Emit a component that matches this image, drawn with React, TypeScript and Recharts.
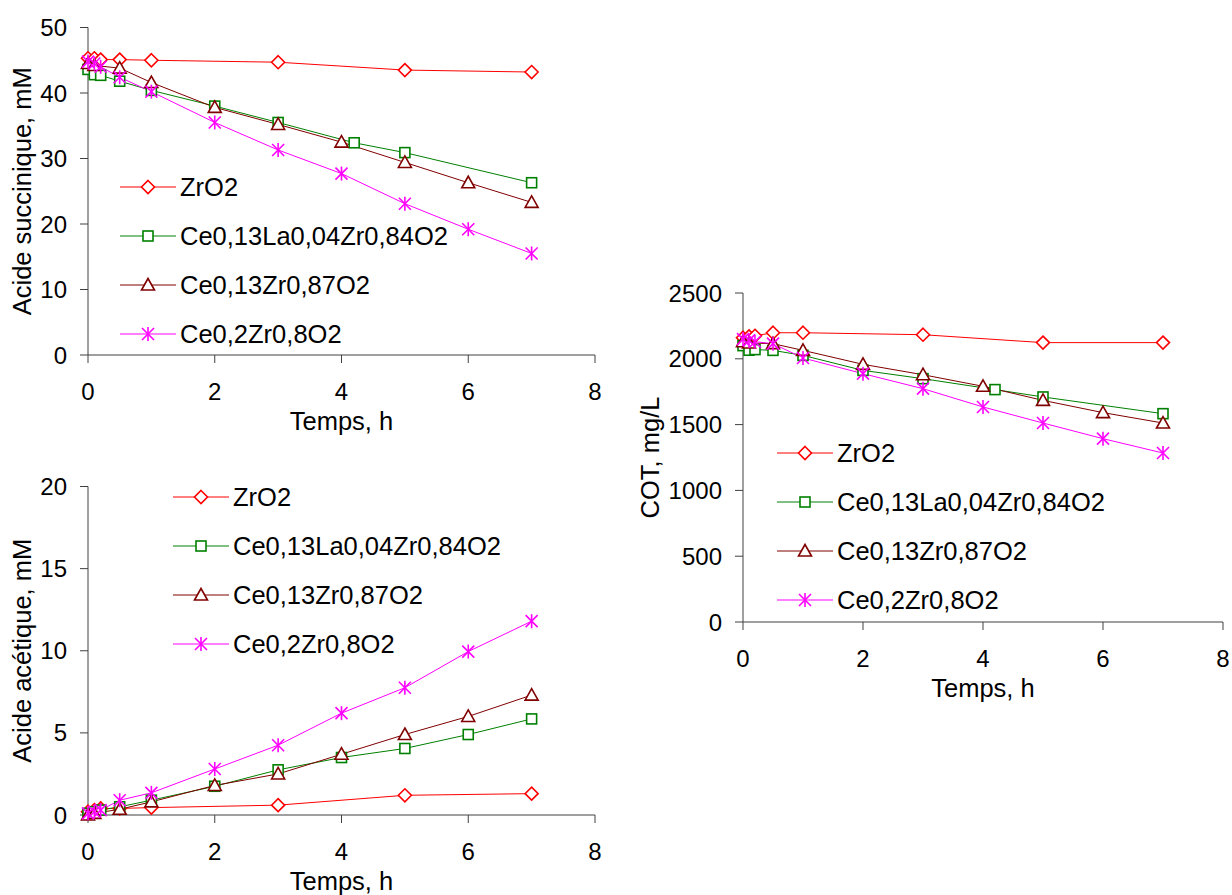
import { LineChart, Line, XAxis, YAxis, Legend } from 'recharts';

const FONT = '"Liberation Sans", Arial, sans-serif';

// series names
const ZR = 'ZrO2';
const CLZ = 'Ce0,13La0,04Zr0,84O2';
const CZ13 = 'Ce0,13Zr0,87O2';
const CZ2 = 'Ce0,2Zr0,8O2';
const seriesOrder = [ZR, CLZ, CZ13, CZ2];

const timeTicks = [0, 2, 4, 6, 8];

// Acide succinique, mM
const succTimeZr = [0, 0.1, 0.2, 0.5, 1, 3, 5, 7];
const succZr = [45.3, 45.3, 45.1, 45.1, 45.0, 44.7, 43.5, 43.2];
const succTimeClz = [0, 0.1, 0.2, 0.5, 1, 2, 3, 4.2, 5, 7];
const succClz = [43.6, 42.8, 42.7, 41.8, 40.4, 38.0, 35.5, 32.4, 30.9, 26.3];
const succTimeCz13 = [0, 0.1, 0.5, 1, 2, 3, 4, 5, 6, 7];
const succCz13 = [44.5, 44.2, 43.8, 41.6, 37.8, 35.2, 32.5, 29.4, 26.3, 23.3];
const succTimeCz2 = [0, 0.1, 0.2, 0.5, 1, 2, 3, 4, 5, 6, 7];
const succCz2 = [44.8, 44.5, 44.0, 42.4, 40.2, 35.5, 31.3, 27.7, 23.1, 19.2, 15.5];
const succTicks = [0, 10, 20, 30, 40, 50];

// Acide acétique, mM
const acetTimeZr = [0, 0.1, 0.2, 0.5, 1, 3, 5, 7];
const acetZr = [0.2, 0.3, 0.4, 0.4, 0.45, 0.6, 1.2, 1.3];
const acetTimeClz = [0, 0.1, 0.2, 0.5, 1, 2, 3, 4, 5, 6, 7];
const acetClz = [0.1, 0.2, 0.3, 0.5, 0.9, 1.75, 2.75, 3.5, 4.05, 4.9, 5.85];
const acetTimeCz13 = [0, 0.1, 0.5, 1, 2, 3, 4, 5, 6, 7];
const acetCz13 = [0, 0.1, 0.35, 0.8, 1.8, 2.5, 3.7, 4.9, 6.0, 7.3];
const acetTimeCz2 = [0, 0.1, 0.2, 0.5, 1, 2, 3, 4, 5, 6, 7];
const acetCz2 = [0.1, 0.2, 0.3, 0.9, 1.35, 2.8, 4.25, 6.2, 7.75, 9.95, 11.8];
const acetTicks = [0, 5, 10, 15, 20];

// COT, mg/L
const cotTimeZr = [0, 0.1, 0.2, 0.5, 1, 3, 5, 7];
const cotZr = [2160, 2170, 2175, 2198, 2198, 2183, 2123, 2123];
const cotTimeClz = [0, 0.1, 0.2, 0.5, 1, 2, 3, 4.2, 5, 7];
const cotClz = [2100, 2065, 2070, 2064, 2026, 1912, 1849, 1766, 1710, 1583];
const cotTimeCz13 = [0, 0.1, 0.5, 1, 2, 3, 4, 5, 6, 7];
const cotCz13 = [2130, 2120, 2115, 2064, 1958, 1879, 1791, 1684, 1591, 1512];
const cotTimeCz2 = [0, 0.1, 0.2, 0.5, 1, 2, 3, 4, 5, 6, 7];
const cotCz2 = [2150, 2140, 2130, 2115, 2006, 1887, 1773, 1634, 1512, 1393, 1284];
const cotTicks = [0, 500, 1000, 1500, 2000, 2500];

const zip = (t: number[], v: number[]) => t.map((x, i) => ({ t: x, v: v[i] }));

type Shape = 'diamond' | 'square' | 'triangle' | 'star';

const seriesStyle: Record<string, { color: string; shape: Shape }> = {
  [ZR]: { color: '#FF0000', shape: 'diamond' },
  [CLZ]: { color: '#008000', shape: 'square' },
  [CZ13]: { color: '#800000', shape: 'triangle' },
  [CZ2]: { color: '#FF00FF', shape: 'star' },
};

function Marker({ shape, x, y, color }: { shape: Shape; x: number; y: number; color: string }) {
  const sw = 1.6;
  if (shape === 'diamond') {
    return <path d={`M${x},${y - 6.5}L${x + 6.5},${y}L${x},${y + 6.5}L${x - 6.5},${y}Z`} fill="#fff" stroke={color} strokeWidth={sw} />;
  }
  if (shape === 'square') {
    return <rect x={x - 5} y={y - 5} width={10} height={10} fill="#fff" stroke={color} strokeWidth={sw} />;
  }
  if (shape === 'triangle') {
    return <path d={`M${x},${y - 6.5}L${x + 6.5},${y + 5}L${x - 6.5},${y + 5}Z`} fill="#fff" stroke={color} strokeWidth={sw} />;
  }
  return (
    <g stroke={color} strokeWidth={sw}>
      <line x1={x} y1={y - 7} x2={x} y2={y + 7} />
      <line x1={x - 6} y1={y - 6} x2={x + 6} y2={y + 6} />
      <line x1={x - 6} y1={y + 6} x2={x + 6} y2={y - 6} />
    </g>
  );
}

const makeDot = (name: string) => (props: any) => {
  const s = seriesStyle[name];
  return <Marker key={`${name}-${props.index}`} shape={s.shape} x={props.cx} y={props.cy} color={s.color} />;
};

const renderLegend = (props: any) => {
  const items = [...(props.payload || [])].sort(
    (a: any, b: any) => seriesOrder.indexOf(a.value) - seriesOrder.indexOf(b.value)
  );
  return (
    <div style={{ fontFamily: FONT, fontSize: 25.5, color: '#000' }}>
      {items.map((p: any) => {
        const s = seriesStyle[p.value];
        return (
          <div key={p.value} style={{ display: 'flex', alignItems: 'center', height: 49, whiteSpace: 'nowrap' }}>
            <svg width={56} height={20} style={{ overflow: 'visible' }}>
              <line x1={0} y1={10} x2={56} y2={10} stroke={s.color} strokeWidth={1} />
              <Marker shape={s.shape} x={28} y={10} color={s.color} />
            </svg>
            <span style={{ marginLeft: 4 }}>{p.value}</span>
          </div>
        );
      })}
    </div>
  );
};

const axisColor = '#404040';
const tickStyle = { fill: '#000', fontSize: 24, fontFamily: FONT };

interface PanelProps {
  width: number;
  height: number;
  margin: { top: number; right: number; bottom: number; left: number };
  yWidth: number;
  yTicks: number[];
  yLabel: string;
  yLabelOffset: number;
  legendPos: { left: number; top: number };
  series: { name: string; data: { t: number; v: number }[] }[];
}

function Panel({ width, height, margin, yWidth, yTicks, yLabel, yLabelOffset, legendPos, series }: PanelProps) {
  return (
    <LineChart width={width} height={height} margin={margin} style={{ fontFamily: FONT }}>
      <XAxis
        type="number"
        dataKey="t"
        domain={[0, 8]}
        ticks={timeTicks}
        height={40}
        tickSize={8}
        tickMargin={20}
        stroke={axisColor}
        tick={tickStyle}
        allowDuplicatedCategory={false}
        label={{ value: 'Temps, h', position: 'bottom', offset: 17, fill: '#000', fontSize: 25.5, fontFamily: FONT }}
      />
      <YAxis
        type="number"
        dataKey="v"
        domain={[yTicks[0], yTicks[yTicks.length - 1]]}
        ticks={yTicks}
        width={yWidth}
        tickSize={8}
        tickMargin={13}
        stroke={axisColor}
        tick={tickStyle}
        label={{
          value: yLabel,
          angle: -90,
          position: 'insideLeft',
          offset: yLabelOffset,
          fill: '#000',
          fontSize: 25.5,
          fontFamily: FONT,
          style: { textAnchor: 'middle' },
        }}
      />
      <Legend
        layout="vertical"
        align="center"
        verticalAlign="middle"
        content={renderLegend}
        wrapperStyle={{ left: legendPos.left, top: legendPos.top, width: 'auto', height: 'auto' }}
      />
      {series.map((s) => (
        <Line
          key={s.name}
          name={s.name}
          data={s.data}
          dataKey="v"
          type="linear"
          stroke={seriesStyle[s.name].color}
          strokeWidth={1}
          dot={makeDot(s.name)}
          activeDot={false}
          isAnimationActive={false}
        />
      ))}
    </LineChart>
  );
}

export default function App() {
  return (
    <div style={{ position: 'absolute', left: 0, top: 0, width: 1232, height: 895, background: '#fff', fontFamily: FONT }}>
      <div style={{ position: 'absolute', left: 0, top: 0 }}>
        <Panel
          width={620}
          height={440}
          margin={{ top: 27.5, right: 25, bottom: 45, left: 0 }}
          yWidth={88}
          yTicks={succTicks}
          yLabel="Acide succinique, mM"
          yLabelOffset={22}
          legendPos={{ left: 120, top: 162.5 }}
          series={[
            { name: ZR, data: zip(succTimeZr, succZr) },
            { name: CLZ, data: zip(succTimeClz, succClz) },
            { name: CZ13, data: zip(succTimeCz13, succCz13) },
            { name: CZ2, data: zip(succTimeCz2, succCz2) },
          ]}
        />
      </div>
      <div style={{ position: 'absolute', left: 0, top: 440 }}>
        <Panel
          width={620}
          height={455}
          margin={{ top: 46.5, right: 25, bottom: 40, left: 0 }}
          yWidth={88}
          yTicks={acetTicks}
          yLabel="Acide acétique, mM"
          yLabelOffset={22}
          legendPos={{ left: 173, top: 32.5 }}
          series={[
            { name: ZR, data: zip(acetTimeZr, acetZr) },
            { name: CLZ, data: zip(acetTimeClz, acetClz) },
            { name: CZ13, data: zip(acetTimeCz13, acetCz13) },
            { name: CZ2, data: zip(acetTimeCz2, acetCz2) },
          ]}
        />
      </div>
      <div style={{ position: 'absolute', left: 620, top: 0 }}>
        <Panel
          width={612}
          height={720}
          margin={{ top: 293, right: 9, bottom: 58, left: 0 }}
          yWidth={123}
          yTicks={cotTicks}
          yLabel="COT, mg/L"
          yLabelOffset={30}
          legendPos={{ left: 157, top: 428.5 }}
          series={[
            { name: ZR, data: zip(cotTimeZr, cotZr) },
            { name: CLZ, data: zip(cotTimeClz, cotClz) },
            { name: CZ13, data: zip(cotTimeCz13, cotCz13) },
            { name: CZ2, data: zip(cotTimeCz2, cotCz2) },
          ]}
        />
      </div>
    </div>
  );
}
